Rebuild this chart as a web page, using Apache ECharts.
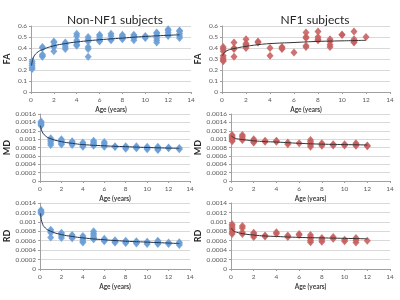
<!DOCTYPE html>
<html>
<head>
<meta charset="utf-8">
<script src="https://cdn.jsdelivr.net/npm/echarts@6/dist/echarts.min.js"></script>
<style>
  html, body { margin: 0; padding: 0; background: #fff; }
  #chart { width: 400px; height: 300px; }
</style>
</head>
<body>
<div id="chart"></div>
<script>
// ages at which subjects were measured
const agesCtrl = [0.1, 1, 2, 3, 4, 5, 6, 7, 8, 9, 10, 11, 12, 13];
const agesNf1 = [0.1, 1, 2, 3, 4, 5, 6, 7, 8, 9, 10, 11, 12];

// Non-NF1 subjects, values per age
const faCtrl = [
  [0.28, 0.26, 0.24, 0.22, 0.21], [0.41, 0.40, 0.34, 0.33, 0.32], [0.46, 0.45, 0.42, 0.41, 0.37],
  [0.45, 0.44, 0.43, 0.41, 0.39], [0.53, 0.51, 0.47, 0.45, 0.43, 0.42], [0.50, 0.48, 0.46, 0.41, 0.39, 0.32],
  [0.52, 0.51, 0.49, 0.47, 0.46], [0.53, 0.51, 0.48, 0.47], [0.52, 0.51, 0.50, 0.49, 0.48],
  [0.52, 0.51, 0.50, 0.49, 0.47], [0.51, 0.50, 0.49], [0.54, 0.53, 0.51, 0.49, 0.47, 0.45],
  [0.57, 0.56, 0.54, 0.52, 0.51], [0.56, 0.55, 0.53, 0.51, 0.49]
];
const mdCtrl = [
  [0.00142, 0.0014, 0.00137, 0.00135, 0.00132], [0.00102, 0.00098, 0.00095, 0.0009, 0.00086],
  [0.001, 0.00096, 0.00093, 0.0009, 0.00087], [0.00095, 0.00092, 0.00089, 0.00086],
  [0.00092, 0.00088, 0.00085, 0.00082], [0.00096, 0.00093, 0.0009, 0.00087, 0.00084],
  [0.00093, 0.00089, 0.00085, 0.00082], [0.00083, 0.00081], [0.00083, 0.0008, 0.00077],
  [0.00083, 0.0008, 0.00078], [0.00082, 0.00079, 0.00076], [0.00082, 0.00079, 0.00076, 0.00074],
  [0.0008, 0.00078], [0.00079, 0.00076]
];
const rdCtrl = [
  [0.00125, 0.00122, 0.0012, 0.00117], [0.00083, 0.0008, 0.00077, 0.00067],
  [0.00077, 0.00074, 0.0007, 0.00066], [0.00072, 0.0007, 0.00067, 0.00065],
  [0.0007, 0.00067, 0.00063, 0.00059, 0.00056], [0.0008, 0.00076, 0.00072, 0.00068, 0.00065, 0.00063],
  [0.00064, 0.00061, 0.00059], [0.00061, 0.00058, 0.00056], [0.0006, 0.00057, 0.00055],
  [0.00059, 0.00057, 0.00054], [0.00058, 0.00056, 0.00053], [0.0006, 0.00058, 0.00055, 0.00053],
  [0.00056, 0.00053], [0.00057, 0.00054, 0.00051]
];

// NF1 subjects, values per age
const faNf1 = [
  [0.41, 0.39, 0.37, 0.33, 0.31, 0.29, 0.28], [0.45, 0.40, 0.39, 0.32], [0.48, 0.44, 0.43, 0.42, 0.40],
  [0.46, 0.45], [0.40, 0.33], [0.41, 0.40, 0.39], [0.36], [0.54, 0.50, 0.49, 0.42, 0.41],
  [0.55, 0.50, 0.48, 0.47], [0.48, 0.46, 0.43, 0.41], [0.52, 0.52], [0.55, 0.48, 0.46, 0.45], [0.50]
];
const mdNf1 = [
  [0.0011, 0.00107, 0.00104, 0.00101, 0.00098, 0.00095], [0.0011, 0.00106, 0.00102, 0.00098],
  [0.001, 0.00097, 0.00094, 0.00092], [0.00096, 0.00094], [0.00096, 0.00094], [0.00092, 0.00088],
  [0.0009], [0.00098, 0.00094, 0.0009, 0.00086, 0.00082], [0.0009, 0.00087, 0.00084],
  [0.00088, 0.00085], [0.00088, 0.00085], [0.0009, 0.00087, 0.00084], [0.00085, 0.00083]
];
const rdNf1 = [
  [0.00095, 0.00091, 0.00087, 0.00083, 0.00078, 0.00074], [0.00091, 0.00087, 0.00078, 0.00074],
  [0.00077, 0.00074, 0.00071, 0.00068], [0.00071, 0.00069], [0.00078, 0.00075], [0.00071, 0.00068],
  [0.00074, 0.00072], [0.00072, 0.00068, 0.00064, 0.0006, 0.00057], [0.00066, 0.00062, 0.00058],
  [0.00068, 0.00064], [0.00062, 0.00059], [0.00066, 0.00061, 0.00056], [0.0006]
];

// trend lines
const trendAgesCtrl = [0.05, 0.2, 0.5, 1, 2, 3, 4, 6, 8, 10, 13];
const trendFaCtrl = [0.24, 0.31, 0.355, 0.385, 0.42, 0.44, 0.455, 0.475, 0.49, 0.505, 0.52];
const trendMdCtrl = [0.00132, 0.00118, 0.00108, 0.00101, 0.00094, 0.0009, 0.00087, 0.00084, 0.00082, 0.0008, 0.00078];
const trendRdCtrl = [0.00118, 0.00098, 0.00087, 0.0008, 0.00073, 0.00069, 0.00066, 0.00062, 0.00059, 0.00057, 0.00054];
const trendAgesNf1 = [0.05, 0.2, 0.5, 1, 2, 3, 4, 6, 8, 10, 12];
const trendFaNf1 = [0.33, 0.36, 0.38, 0.395, 0.415, 0.43, 0.44, 0.45, 0.46, 0.465, 0.47];
const trendMdNf1 = [0.00108, 0.00104, 0.00101, 0.00099, 0.00096, 0.00094, 0.00093, 0.0009, 0.00088, 0.00087, 0.00086];
const trendRdNf1 = [0.00087, 0.00081, 0.00078, 0.00075, 0.00072, 0.0007, 0.00069, 0.00067, 0.00066, 0.00065, 0.00064];

const font = 'Lato, "Liberation Sans", sans-serif';
const blue = '#6c9ed6';
const red = '#c86262';

function toPoints(ages, vals) {
  return vals.flatMap((list, i) => list.map(v => [ages[i], v]));
}
function toLine(ages, vals) {
  return vals.map((v, i) => [ages[i], v]);
}

const grids = [
  { left: 31, top: 26, width: 160, height: 66 },
  { left: 222, top: 26, width: 168, height: 66 },
  { left: 40, top: 114, width: 150, height: 67 },
  { left: 231, top: 114, width: 159, height: 67 },
  { left: 40, top: 203, width: 150, height: 66 },
  { left: 231, top: 203, width: 159, height: 66 }
];

const xAxes = grids.map((g, i) => ({
  type: 'value', gridIndex: i, min: 0, max: 14, interval: 2,
  name: 'Age (years)', nameLocation: 'middle', nameGap: 14,
  nameTextStyle: { fontFamily: font, fontSize: 6.5, fontWeight: 'bold', color: '#404040' },
  axisLine: { lineStyle: { color: '#a0a0a0' } },
  axisTick: { show: true, length: 2, lineStyle: { color: '#a0a0a0' } },
  axisLabel: { fontFamily: font, fontSize: 6.5, color: '#595959', margin: 4 },
  splitLine: { show: false }
}));

const fmt = v => String(+v.toFixed(4));
const yDefs = [
  { name: 'FA', max: 0.6, interval: 0.1, gap: 19 },
  { name: 'FA', max: 0.6, interval: 0.1, gap: 19 },
  { name: 'MD', max: 0.0016, interval: 0.0002, gap: 25 },
  { name: 'MD', max: 0.0016, interval: 0.0002, gap: 25 },
  { name: 'RD', max: 0.0014, interval: 0.0002, gap: 27 },
  { name: 'RD', max: 0.0014, interval: 0.0002, gap: 27 }
];
const yAxes = yDefs.map((d, i) => ({
  type: 'value', gridIndex: i, min: 0, max: d.max, interval: d.interval,
  name: d.name, nameLocation: 'middle', nameRotate: 90, nameGap: d.gap,
  nameTextStyle: { fontFamily: font, fontSize: 9, fontWeight: 'bold', color: '#262626' },
  axisLine: { show: true, lineStyle: { color: '#a0a0a0' } },
  axisTick: { show: true, length: 2, lineStyle: { color: '#a0a0a0' } },
  axisLabel: { fontFamily: font, fontSize: 6.5, color: '#595959', margin: 4, formatter: fmt },
  splitLine: { lineStyle: { color: '#d9d9d9', width: 1 } }
}));

function scatter(i, data, color) {
  return {
    type: 'scatter', xAxisIndex: i, yAxisIndex: i, data: data,
    symbol: 'diamond', symbolSize: [7, 8],
    itemStyle: { color: color, opacity: 0.9 }
  };
}
function trend(i, data, color) {
  return {
    type: 'line', xAxisIndex: i, yAxisIndex: i, data: data, smooth: true,
    showSymbol: false, lineStyle: { color: color, width: 1 }, z: 3
  };
}

const chart = echarts.init(document.getElementById('chart'));
chart.setOption({
  animation: false,
  title: [
    { text: 'Non-NF1 subjects', left: 110, top: 9, textAlign: 'center',
      textStyle: { fontFamily: font, fontSize: 12, fontWeight: 'normal', color: '#262626' } },
    { text: 'NF1 subjects', left: 310, top: 9, textAlign: 'center',
      textStyle: { fontFamily: font, fontSize: 12, fontWeight: 'normal', color: '#262626' } }
  ],
  grid: grids,
  xAxis: xAxes,
  yAxis: yAxes,
  series: [
    scatter(0, toPoints(agesCtrl, faCtrl), blue),
    scatter(1, toPoints(agesNf1, faNf1), red),
    scatter(2, toPoints(agesCtrl, mdCtrl), blue),
    scatter(3, toPoints(agesNf1, mdNf1), red),
    scatter(4, toPoints(agesCtrl, rdCtrl), blue),
    scatter(5, toPoints(agesNf1, rdNf1), red),
    trend(0, toLine(trendAgesCtrl, trendFaCtrl), '#1f3553'),
    trend(1, toLine(trendAgesNf1, trendFaNf1), '#333333'),
    trend(2, toLine(trendAgesCtrl, trendMdCtrl), '#1f3553'),
    trend(3, toLine(trendAgesNf1, trendMdNf1), '#333333'),
    trend(4, toLine(trendAgesCtrl, trendRdCtrl), '#1f3553'),
    trend(5, toLine(trendAgesNf1, trendRdNf1), '#333333')
  ]
});
</script>
</body>
</html>
